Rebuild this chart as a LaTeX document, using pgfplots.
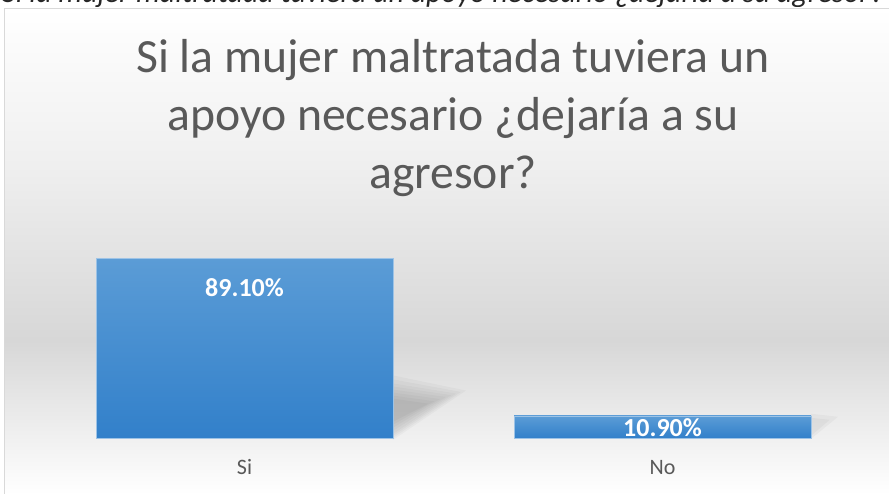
\documentclass[border=0pt]{standalone}
\usepackage{pgfplots}
\pgfplotsset{compat=1.18}
\usepackage{fontspec}
\setmainfont{Carlito}
\definecolor{titlegray}{HTML}{595959}
\definecolor{bartop}{HTML}{5B9CD6}
\definecolor{barbot}{HTML}{3280CA}
\definecolor{barline}{HTML}{9DC3E6}
\definecolor{bgmid}{HTML}{D7D7D7}
\definecolor{bglight}{HTML}{EFEFEF}
\definecolor{frameline}{HTML}{D9D9D9}
\pgfdeclareverticalshading{chartbg}{100bp}{color(0bp)=(white); color(25bp)=(white); color(40.8bp)=(bgmid); color(58.8bp)=(bglight); color(75bp)=(white); color(100bp)=(white)}
\begin{document}
\begin{tikzpicture}[x=1pt,y=1pt]
\useasboundingbox (0,0) rectangle (889,494);
\begin{scope}
\clip (0,486.5) rectangle (889,494);
\node[anchor=base west, inner sep=0, font=\itshape\fontsize{30}{36}\selectfont, text=black!85] at (2,491.8) {Si la mujer maltratada tuviera un apoyo necesario ¿dejaría a su agresor?};
\end{scope}
\shade[shading=chartbg] (4,0) rectangle (889,486);
\draw[frameline, line width=1.2] (4.6,0) -- (4.6,485.4) -- (889,485.4);
\node[anchor=base, text=titlegray, font=\fontsize{47.7}{58}\selectfont, inner sep=0] at (453,421) {Si la mujer maltratada tuviera un};
\node[anchor=base, text=titlegray, font=\fontsize{47.7}{58}\selectfont, inner sep=0] at (453,363) {apoyo necesario ¿dejaría a su};
\node[anchor=base, text=titlegray, font=\fontsize{47.7}{58}\selectfont, inner sep=0] at (453,305) {agresor?};
\begin{axis}[
  at={(35.5pt,56pt)}, anchor=south west,
  scale only axis, width=836pt, height=202pt,
  xmin=-0.5, xmax=1.5, ymin=0, ymax=100,
  axis line style={draw=none},
  major tick length=0pt,
  ytick=\empty,
  xtick={0,1}, xticklabels={Si,No},
  xticklabel style={font=\fontsize{22}{26}\selectfont, text=titlegray, anchor=base, yshift=-37pt},
  clip=false,
]
% soft perspective shadow of the first bar (stacked translucent layers)
\fill[black, opacity=0.026] (axis cs:0.355,-1) -- (axis cs:0.355,31) -- (axis cs:0.53,23.5) -- cycle;
\fill[black, opacity=0.026] (axis cs:0.355,0) -- (axis cs:0.355,29) -- (axis cs:0.518,22.8) -- cycle;
\fill[black, opacity=0.026] (axis cs:0.355,1) -- (axis cs:0.355,27) -- (axis cs:0.506,22) -- cycle;
\fill[black, opacity=0.026] (axis cs:0.355,2) -- (axis cs:0.355,25.5) -- (axis cs:0.494,21.2) -- cycle;
\fill[black, opacity=0.026] (axis cs:0.355,3.5) -- (axis cs:0.355,24) -- (axis cs:0.482,20.3) -- cycle;
\fill[black, opacity=0.026] (axis cs:0.355,5) -- (axis cs:0.355,22.5) -- (axis cs:0.468,19.3) -- cycle;
\fill[black, opacity=0.026] (axis cs:0.355,6.5) -- (axis cs:0.355,21) -- (axis cs:0.454,18.2) -- cycle;
\fill[black, opacity=0.026] (axis cs:0.355,8) -- (axis cs:0.355,19.5) -- (axis cs:0.44,17) -- cycle;
% soft shadow of the second bar
\fill[black, opacity=0.03] (axis cs:1.355,-0.5) -- (axis cs:1.355,12) -- (axis cs:1.42,10.5) -- cycle;
\fill[black, opacity=0.03] (axis cs:1.355,1) -- (axis cs:1.355,10) -- (axis cs:1.40,9) -- cycle;
\addplot[ybar, bar width=297pt, bar shift=0pt, draw=barline, line width=0.8pt, top color=bartop, bottom color=barbot,
  nodes near coords={\pgfmathprintnumber[fixed,fixed zerofill,precision=2,assume math mode=true]{\pgfplotspointmeta}\%},
  every node near coord/.append style={anchor=center, yshift=-30pt, text=white, font=\bfseries\fontsize{26}{30}\selectfont}]
  coordinates {(0,89.1)};
\addplot[ybar, bar width=297pt, bar shift=0pt, draw=barline, line width=0.8pt, top color=bartop, bottom color=barbot,
  nodes near coords={\pgfmathprintnumber[fixed,fixed zerofill,precision=2,assume math mode=true]{\pgfplotspointmeta}\%},
  every node near coord/.append style={anchor=center, yshift=-11.5pt, text=white, font=\bfseries\fontsize{26}{30}\selectfont}]
  coordinates {(1,10.9)};
\end{axis}
\end{tikzpicture}
\end{document}
